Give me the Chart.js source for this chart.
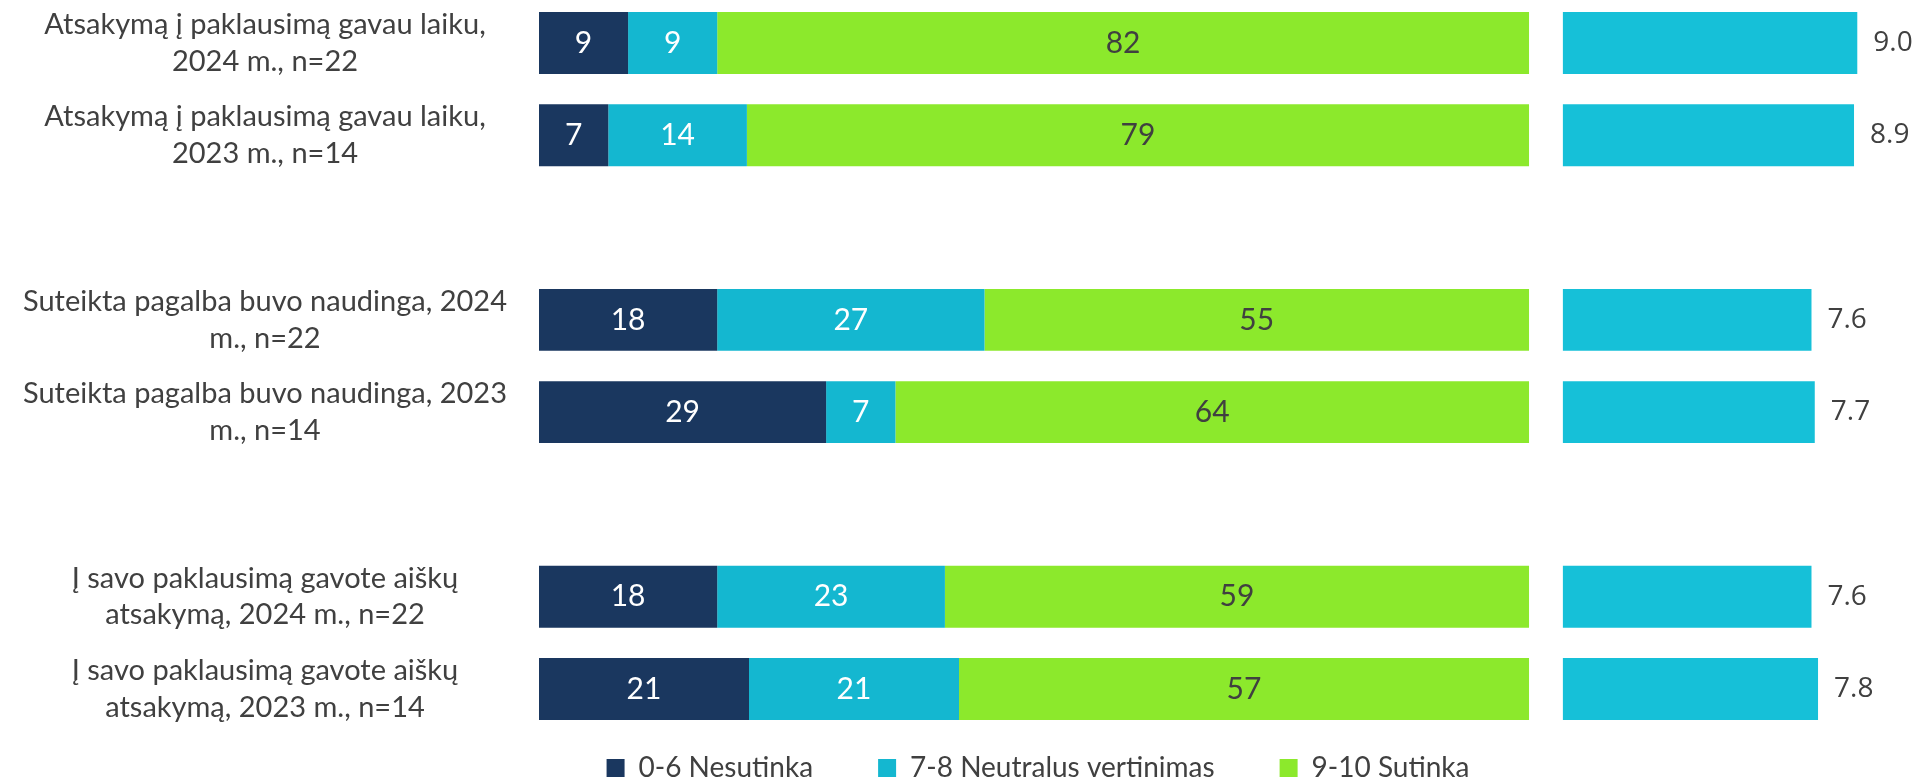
<!DOCTYPE html>
<html>
<head>
<meta charset="utf-8">
<script src="https://cdn.jsdelivr.net/npm/chart.js@4.4.1/dist/chart.umd.min.js"></script>
<style>
  html, body { margin: 0; padding: 0; background: #fff; overflow: hidden; }
  #wrap { position: relative; width: 1918px; height: 781px; overflow: hidden; }
  #chart { position: absolute; left: 0; top: 0; }
</style>
</head>
<body>
<div id="wrap"><canvas id="chart" width="2076" height="792"></canvas></div>
<script>
const categories = [
  ["Atsakymą į paklausimą gavau laiku,", "2024 m., n=22"],
  ["Atsakymą į paklausimą gavau laiku,", "2023 m., n=14"],
  ["Suteikta pagalba buvo naudinga, 2024", "m., n=22"],
  ["Suteikta pagalba buvo naudinga, 2023", "m., n=14"],
  ["Į savo paklausimą gavote aiškų", "atsakymą, 2024 m., n=22"],
  ["Į savo paklausimą gavote aiškų", "atsakymą, 2023 m., n=14"]
];
// an empty row goes after these rows, so the 3 questions stand apart
const gapAfter = [1, 3];

const disagree = [9, 7, 18, 29, 18, 21];
const neutral = [9, 14, 27, 7, 23, 21];
const agree = [82, 79, 55, 64, 59, 57];
const means = [9.0, 8.9, 7.6, 7.7, 7.6, 7.8];

const seriesNames = ["0-6 Nesutinka", "7-8 Neutralus vertinimas", "9-10 Sutinka"];
const colors = ["#1a375f", "#14b7d0", "#8ce92c"];
const meanColor = "#16c0d8";
const textDark = "#404040";

function withGaps(arr, empty) {
  const out = [];
  arr.forEach((v, i) => {
    out.push(v);
    if (gapAfter.includes(i)) out.push(empty);
  });
  return out;
}

// bars are drawn as share of the row total (100% stacked, like excel)
const totals = disagree.map((v, i) => v + neutral[i] + agree[i]);
function share(arr) {
  return arr.map((v, i) => v / totals[i] * 100);
}

const stackSeries = [disagree, neutral, agree];
const labelColors = ["#ffffff", "#ffffff", textDark];

const datasets = stackSeries.map((arr, k) => ({
  label: seriesNames[k],
  data: withGaps(share(arr), null),
  raw: withGaps(arr, null),
  backgroundColor: colors[k],
  xAxisID: "x",
  labelColor: labelColors[k]
}));

datasets.push({
  label: "Vidurkis",
  data: withGaps(means, null),
  raw: withGaps(means, null),
  backgroundColor: meanColor,
  xAxisID: "x2",
  isMean: true
});

const valueLabels = {
  id: "valueLabels",
  afterDatasetsDraw(chart) {
    const ctx = chart.ctx;
    chart.data.datasets.forEach((ds, i) => {
      const meta = chart.getDatasetMeta(i);
      meta.data.forEach((bar, j) => {
        const v = ds.raw[j];
        if (v == null) return;
        ctx.save();
        ctx.textBaseline = "middle";
        if (ds.isMean) {
          ctx.font = "28px 'Open Sans'";
          ctx.fillStyle = textDark;
          ctx.textAlign = "left";
          ctx.fillText(v.toFixed(1), bar.x + 16, bar.y);
        } else {
          ctx.font = "30px Lato";
          ctx.fillStyle = ds.labelColor;
          ctx.textAlign = "center";
          ctx.fillText(String(v), (bar.x + bar.base) / 2, bar.y);
        }
        ctx.restore();
      });
    });
  }
};

new Chart(document.getElementById("chart"), {
  type: "bar",
  data: {
    labels: withGaps(categories, ""),
    datasets: datasets
  },
  options: {
    indexAxis: "y",
    responsive: false,
    animation: false,
    devicePixelRatio: 1,
    categoryPercentage: 1,
    barPercentage: 0.67,
    layout: { padding: { left: 0, right: 0, top: 43, bottom: 0 } },
    datasets: { bar: { clip: false } },
    scales: {
      y: {
        stacked: true,
        offset: false,
        grid: { display: false },
        border: { display: false },
        ticks: {
          autoSkip: false,
          crossAlign: "center",
          padding: 24,
          color: textDark,
          font: { family: "Lato", size: 29, lineHeight: 1.27 }
        },
        afterFit(scale) {
          scale.width = 539;
          scale.paddingTop = 0;
          scale.paddingBottom = 0;
        }
      },
      // empty box on the right, keeps the legend centred under the bars
      yRight: {
        type: "category",
        position: "right",
        grid: { display: false },
        border: { display: false },
        ticks: { display: false },
        afterFit(scale) { scale.width = 186; }
      },
      x: { stacked: true, min: 0, max: 136.46, display: false },
      x2: { type: "linear", axis: "x", position: "bottom", min: -31.3, max: 10, display: false }
    },
    plugins: {
      tooltip: { enabled: false },
      legend: {
        position: "bottom",
        labels: {
          boxWidth: 18,
          boxHeight: 18,
          padding: 65,
          color: textDark,
          font: { family: "Lato", size: 28 },
          filter: (item) => item.datasetIndex < 3
        }
      }
    }
  },
  plugins: [valueLabels]
});
</script>
</body>
</html>
